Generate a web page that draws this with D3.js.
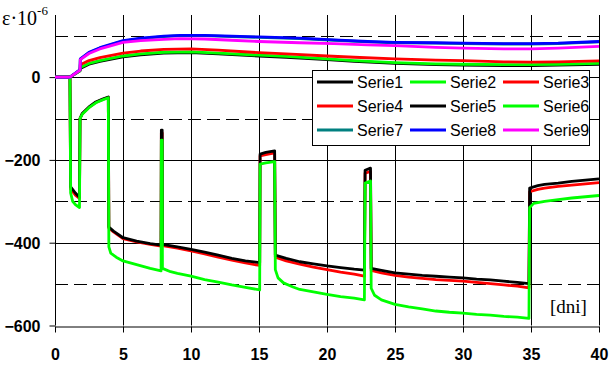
<!DOCTYPE html>
<html><head><meta charset="utf-8">
<script src="https://cdn.jsdelivr.net/npm/d3@7/dist/d3.min.js"></script>
<style>
html,body{margin:0;padding:0;background:#fff;}
svg{display:block;}
</style></head>
<body><svg id="c" width="612" height="366"></svg>
<script>
// ---- data ----
const seriesNames = ["Serie1","Serie2","Serie3","Serie4","Serie5","Serie6","Serie7","Serie8","Serie9"];
const seriesColors = ["#000000","#00ff00","#ff0000","#ff0000","#000000","#00ff00","#008080","#0000ff","#ff00ff"];
const xTicks = [0,5,10,15,20,25,30,35,40];
const yTicks = [0,-200,-400,-600];
const yDashed = [100,-100,-300,-500];

const serie1 = [[0,0],[1.1,0],[1.84,15],[1.86,21],[2.5,31],[3.3,38],[5,49],[6.3,54],[8,58],[10,59],[12,56],[15,51],[17,48],[20,42],[22,38],[25,33],[28,30],[30,29],[33,28],[35,28],[37,29],[40,31]];
const serie2 = [[0,0],[1.1,0],[1.84,15],[1.86,23],[2.5,33],[3.3,40],[5,51],[6.3,56],[8,60],[10,61],[12,58],[15,53],[17,50],[20,44],[22,40],[25,35],[28,32],[30,31],[33,30],[35,30],[37,31],[40,33]];
const serie3 = [[0,0],[1.1,0],[1.84,17],[1.86,30],[2.5,40],[3.3,47],[5,58],[6.3,63],[8,67],[10,68],[12,65],[15,59],[17,56],[20,51],[22,48],[25,44],[28,41],[30,40],[33,37],[35,36],[37,37],[40,39]];
const serie4 = [[0,0],[1.1,0],[1.15,-270],[1.5,-285],[1.8,-293],[1.84,-100],[2.0,-89],[2.5,-73],[3.0,-61],[3.5,-54],[3.92,-49],[3.96,-365],[4.3,-374],[5,-390],[6,-398],[7,-404],[7.8,-408],[7.82,-135],[7.88,-135],[7.9,-407],[9,-413],[10,-420],[11,-427],[12,-435],[13,-442],[14,-449],[15.05,-455],[15.08,-190],[15.5,-187],[16.15,-183],[16.2,-435],[17,-444],[18,-452],[19,-459],[20,-465],[21,-471],[22,-476],[22.75,-481],[22.8,-232],[23.2,-228],[23.25,-467],[24,-473],[25,-479],[26,-483],[27,-486],[28,-489],[29,-491],[30,-493],[31,-496],[32,-499],[33,-502],[34,-505],[34.85,-509],[34.9,-277],[35.5,-271],[36,-268],[37,-264],[38,-261],[39,-258],[40,-255]];
const serie5 = [[0,0],[1.1,0],[1.15,-265],[1.5,-280],[1.8,-290],[1.84,-100],[2.0,-88],[2.5,-72],[3.0,-60],[3.5,-53],[3.92,-48],[3.96,-362],[4.3,-372],[5,-388],[6,-396],[7,-402],[7.8,-406],[7.82,-128],[7.88,-128],[7.9,-404],[9,-410],[10,-416],[11,-423],[12,-430],[13,-438],[14,-444],[15.05,-448],[15.08,-186],[15.5,-182],[16.15,-178],[16.2,-430],[17,-438],[18,-446],[19,-451],[20,-456],[21,-460],[22,-464],[22.75,-466],[22.8,-225],[23.2,-220],[23.25,-462],[24,-467],[25,-473],[26,-476],[27,-479],[28,-481],[29,-483],[30,-485],[31,-488],[32,-490],[33,-493],[34,-496],[34.85,-499],[34.9,-268],[35.5,-262],[36,-259],[37,-256],[38,-252],[39,-249],[40,-246]];
const serie6 = [[0,0],[1.1,0],[1.15,-280],[1.3,-300],[1.5,-308],[1.8,-315],[1.84,-100],[2.0,-90],[2.5,-74],[3.0,-62],[3.5,-55],[3.92,-50],[3.96,-410],[4.1,-425],[4.5,-435],[5,-444],[6,-453],[7,-462],[7.8,-468],[7.82,-152],[7.88,-152],[7.9,-462],[8.5,-470],[9,-474],[10,-481],[11,-489],[12,-495],[13,-502],[14,-508],[15.05,-514],[15.08,-210],[15.5,-207],[16.15,-204],[16.2,-465],[16.4,-485],[16.8,-497],[17.5,-507],[18,-513],[19,-519],[20,-525],[21,-530],[22,-534],[22.75,-538],[22.8,-256],[23.2,-251],[23.25,-510],[23.5,-527],[24,-538],[25,-549],[26,-555],[27,-560],[28,-565],[29,-568],[30,-570],[31,-573],[32,-575],[33,-578],[34,-580],[34.85,-583],[34.9,-315],[35.2,-305],[36,-300],[37,-296],[38,-292],[39,-289],[40,-286]];
const serie7 = [[0,0],[1.1,0],[1.84,17],[1.86,43],[2.5,59],[3.3,70],[5,87],[6.3,93],[8,98],[9.2,100],[11,100],[13,98],[15,96],[18,93],[20.5,89],[23,85],[25,83],[28,82],[30,81],[33,80],[35,80],[37,81],[40,85]];
const serie8 = [[0,0],[1.1,0],[1.84,18],[1.86,44],[2.5,60],[3.3,71],[5,88],[6.3,94],[8,99],[9.2,101],[11,101],[13,99],[15,97],[18,94],[20.5,90],[23,86],[25,84],[28,83],[30,82],[33,81],[35,81],[37,82],[40,86]];
const serie9 = [[0,0],[1.1,0],[1.84,17],[1.86,42],[2.5,57],[3.3,68],[5,84],[6.3,88],[8,91],[9.2,93],[11,92],[13,89],[15,86],[18,83],[20.5,81],[23,78],[25,76],[28,72],[30,70],[33,68],[35,68],[37,70],[40,74]];
const seriesData = [serie1,serie2,serie3,serie4,serie5,serie6,serie7,serie8,serie9];

// ---- chart ----
const svg = d3.select("#c");
const x = d3.scaleLinear().domain([0,40]).range([55,599]);
const y = d3.scaleLinear().domain([-600,150]).range([325.5,15]);

const grid = svg.append("g");
grid.selectAll("line.v").data(xTicks.slice(1)).join("line")
  .attr("x1",d=>Math.round(x(d))+0.5).attr("x2",d=>Math.round(x(d))+0.5)
  .attr("y1",y(150)).attr("y2",y(-600))
  .attr("stroke","#000").attr("stroke-width",1);
grid.selectAll("line.h").data(yTicks.slice(0,3)).join("line")
  .attr("x1",x(0)).attr("x2",x(40))
  .attr("y1",d=>Math.round(y(d))+0.5).attr("y2",d=>Math.round(y(d))+0.5)
  .attr("stroke","#000").attr("stroke-width",1);
grid.selectAll("line.d").data(yDashed).join("line")
  .attr("x1",x(0)).attr("x2",x(40))
  .attr("y1",d=>Math.round(y(d))+0.5).attr("y2",d=>Math.round(y(d))+0.5)
  .attr("stroke","#000").attr("stroke-width",1).attr("stroke-dasharray","13,6");

// axes
const xAxis = d3.axisBottom(x).tickValues(xTicks).tickSize(6).tickSizeOuter(0).tickPadding(16);
const gx = svg.append("g").attr("transform",`translate(0,${Math.round(y(-600))+0.5})`).call(xAxis);
const yAxis = d3.axisLeft(y).tickValues(yTicks).tickSize(6).tickSizeOuter(0).tickPadding(9).tickFormat(d3.format("d"));
const gy = svg.append("g").attr("transform",`translate(${Math.round(x(0))+0.5},0)`).call(yAxis);
gy.select(".domain").attr("d",`M0,${y(150)}V${y(-600)}`);
[gx,gy].forEach(g=>{
  g.selectAll(".domain").attr("stroke","#000");
  g.selectAll(".tick line").attr("stroke","#000");
  g.selectAll("text").attr("font-family","'Liberation Sans', Arial, sans-serif")
    .attr("font-size","16px").attr("font-weight","bold").attr("fill","#000");
});
gy.selectAll("text").attr("dy","0.36em");

// lines
const line = d3.line().x(d=>x(d[0])).y(d=>y(d[1]));
svg.append("g").selectAll("path").data(seriesData).join("path")
  .attr("d",line).attr("fill","none")
  .attr("stroke",(d,i)=>seriesColors[i]).attr("stroke-width",2.8)
  .attr("stroke-linejoin","round");

// axis titles
const t = svg.append("text").attr("x",2).attr("y",25)
  .attr("font-family","'Liberation Serif', 'Times New Roman', serif").attr("font-size","20px").attr("fill","#000");
t.append("tspan").text("ε·10");
t.append("tspan").attr("font-size","13px").attr("dy",-10).text("-6");
svg.append("text").attr("x",550).attr("y",313)
  .attr("font-family","'Liberation Serif', 'Times New Roman', serif").attr("font-size","19px").attr("fill","#000")
  .text("[dni]");

// legend
const lg = svg.append("g");
lg.append("rect").attr("x",312.5).attr("y",70.5).attr("width",277).attr("height",75)
  .attr("fill","#fff").attr("stroke","#000").attr("stroke-width",1);
const colX = [317,410,503];
const rowY = [82,106,130];
seriesNames.forEach((n,i)=>{
  const cx = colX[i%3], cy = rowY[Math.floor(i/3)];
  lg.append("line").attr("x1",cx).attr("x2",cx+36).attr("y1",cy).attr("y2",cy)
    .attr("stroke",seriesColors[i]).attr("stroke-width",3);
  lg.append("text").attr("x",cx+40).attr("y",cy).attr("dy","0.36em")
    .attr("font-family","'Liberation Sans', Arial, sans-serif").attr("font-size","16px").attr("fill","#000")
    .text(n);
});
</script></body></html>
